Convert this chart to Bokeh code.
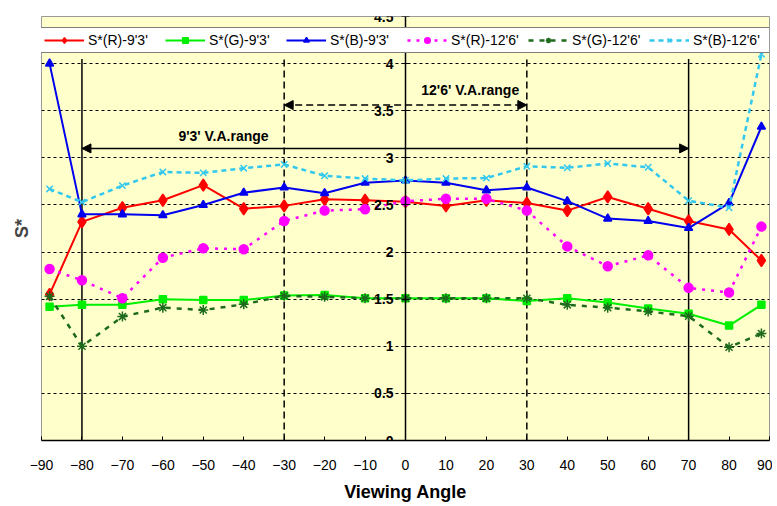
from bokeh.plotting import figure
from bokeh.models import FixedTicker, Arrow, NormalHead, Label, Title, Range1d, Legend
from bokeh.embed import file_html
from bokeh.resources import INLINE

# ---- data ----
angles = [-88, -80, -70, -60, -50, -40, -30, -20, -10, 0, 10, 20, 30, 40, 50, 60, 70, 80, 88]
s_r_9_3 = [1.55, 2.32, 2.47, 2.55, 2.71, 2.46, 2.49, 2.56, 2.55, 2.535, 2.49, 2.55, 2.52, 2.44, 2.585, 2.46, 2.33, 2.24, 1.91]
s_g_9_3 = [1.42, 1.44, 1.44, 1.50, 1.49, 1.49, 1.54, 1.545, 1.51, 1.51, 1.51, 1.51, 1.48, 1.51, 1.465, 1.40, 1.345, 1.22, 1.44]
s_b_9_3 = [4.0, 2.40, 2.40, 2.39, 2.50, 2.63, 2.685, 2.625, 2.735, 2.76, 2.735, 2.655, 2.685, 2.54, 2.355, 2.33, 2.255, 2.52, 3.33]
s_r_12_6 = [1.82, 1.70, 1.51, 1.94, 2.04, 2.03, 2.33, 2.44, 2.455, 2.54, 2.565, 2.565, 2.44, 2.06, 1.85, 1.965, 1.62, 1.57, 2.27]
s_g_12_6 = [1.53, 1.00, 1.315, 1.41, 1.385, 1.445, 1.535, 1.525, 1.51, 1.51, 1.51, 1.51, 1.51, 1.44, 1.41, 1.37, 1.32, 0.99, 1.135]
s_b_12_6 = [2.67, 2.53, 2.705, 2.85, 2.84, 2.89, 2.93, 2.81, 2.78, 2.76, 2.78, 2.785, 2.91, 2.895, 2.94, 2.90, 2.545, 2.47, 4.1]

series_labels = ["S*(R)-9'3'", "S*(G)-9'3'", "S*(B)-9'3'", "S*(R)-12'6'", "S*(G)-12'6'", "S*(B)-12'6'"]

x_ticks = list(range(-90, 91, 10))
y_ticks = [0, 0.5, 1, 1.5, 2, 2.5, 3, 3.5, 4, 4.5]
y_tick_labels = ["0", "0.5", "1", "1.5", "2", "2.5", "3", "3.5", "4", "4.5"]

va_range_9_3 = [-80, 70]
va_range_12_6 = [-30, 30]
va_line_top = 4.05
va_arrow_9_3 = 3.1
va_arrow_12_6 = 3.56
va_text_9_3 = "9'3' V.A.range"
va_text_12_6 = "12'6' V.A.range"

FONT = "Liberation Sans"

p = figure(width=772, height=504, output_backend="svg", toolbar_location=None,
           x_range=Range1d(-90, 90), y_range=Range1d(0, 4.5),
           min_border_left=41, min_border_right=3, min_border_top=16, min_border_bottom=60,
           background_fill_color="#FFFFCC", border_fill_color="white",
           outline_line_color="#9a9a9a", outline_line_width=1)

# axes
p.xaxis.ticker = FixedTicker(ticks=x_ticks)
p.xaxis.minor_tick_line_color = None
p.xaxis.major_tick_in = 4
p.xaxis.major_tick_out = 0
p.xaxis.major_tick_line_color = "black"
p.xaxis.axis_line_color = "black"
p.xaxis.axis_line_width = 1.5
p.xaxis.major_label_text_font = FONT
p.xaxis.major_label_text_font_size = "14px"
p.xaxis.major_label_text_color = "black"
p.xaxis.major_label_standoff = 19
p.xaxis.axis_label = "Viewing Angle"
p.xaxis.axis_label_text_font = FONT
p.xaxis.axis_label_text_font_size = "18px"
p.xaxis.axis_label_text_font_style = "bold"
p.xaxis.axis_label_text_color = "black"
p.xaxis.axis_label_standoff = 9

p.yaxis.fixed_location = 0
p.yaxis.ticker = FixedTicker(ticks=y_ticks)
p.yaxis.major_label_overrides = {t: l for t, l in zip(y_ticks, y_tick_labels)}
p.yaxis.minor_tick_line_color = None
p.yaxis.major_tick_in = 4
p.yaxis.major_tick_out = 4
p.yaxis.major_tick_line_color = "black"
p.yaxis.axis_line_color = "black"
p.yaxis.axis_line_width = 1.5
p.yaxis.major_label_text_font = FONT
p.yaxis.major_label_text_font_size = "14px"
p.yaxis.major_label_text_font_style = "bold"
p.yaxis.major_label_text_color = "black"
p.yaxis.major_label_standoff = 8

p.add_layout(Title(text="S*", align="center", text_font=FONT, text_font_size="18px",
                   text_font_style="bold", standoff=19), "left")

# grid
p.xgrid.grid_line_color = None
p.ygrid.ticker = FixedTicker(ticks=y_ticks[1:-1])
p.ygrid.grid_line_color = "black"
p.ygrid.grid_line_dash = "3 3"
p.ygrid.grid_line_width = 1

# viewing-angle range markers
p.segment(x0=va_range_9_3, x1=va_range_9_3, y0=[0, 0], y1=[va_line_top] * 2,
          line_color="black", line_width=1.5)
p.segment(x0=va_range_12_6, x1=va_range_12_6, y0=[0, 0], y1=[va_line_top] * 2,
          line_color="black", line_width=1.5, line_dash="7 4")
p.add_layout(Arrow(x_start=va_range_9_3[0], x_end=va_range_9_3[1], y_start=va_arrow_9_3, y_end=va_arrow_9_3,
                   start=NormalHead(size=9, fill_color="black", line_color="black"),
                   end=NormalHead(size=9, fill_color="black", line_color="black"),
                   line_color="black", line_width=1.5))
p.add_layout(Arrow(x_start=va_range_12_6[0], x_end=va_range_12_6[1], y_start=va_arrow_12_6, y_end=va_arrow_12_6,
                   start=NormalHead(size=9, fill_color="black", line_color="black"),
                   end=NormalHead(size=9, fill_color="black", line_color="black"),
                   line_color="black", line_width=1.5, line_dash="7 4"))
p.add_layout(Label(x=-45, y=3.23, text=va_text_9_3, text_align="center", text_baseline="middle",
                   text_font=FONT, text_font_size="14px", text_font_style="bold", text_color="black"))
p.add_layout(Label(x=16, y=3.72, text=va_text_12_6, text_align="center", text_baseline="middle",
                   text_font=FONT, text_font_size="14px", text_font_style="bold", text_color="black"))

# series
styles = [
    (s_r_9_3, "#FF0000", None, "diamond", 12),
    (s_g_9_3, "#00EE00", None, "square", 7),
    (s_b_9_3, "#0000EE", None, "triangle", 8),
    (s_r_12_6, "#FF00FF", "3 6", "circle", 9),
    (s_g_12_6, "#1E6B1E", "5 6", "asterisk", 10),
    (s_b_12_6, "#33C8EE", "5 4", "x", 9),
]
items = []
for (vals, col, dash, mk, sz), lab in zip(styles, series_labels):
    kw = dict(line_color=col, line_width=2.5 if dash else 2)
    if dash:
        kw["line_dash"] = dash
    l = p.line(angles, vals, **kw)
    s = p.scatter(angles, vals, marker=mk, size=sz, fill_color=col, line_color=col, line_width=1.5)
    items.append((lab, [l, s]))

legend = Legend(items=items, orientation="horizontal", location="top_center",
                glyph_width=40, glyph_height=14, label_standoff=4, label_width=73, label_height=14,
                spacing=4, padding=4, margin=11,
                label_text_font=FONT, label_text_font_size="14px", label_text_color="black",
                border_line_color="black", border_line_width=1,
                background_fill_color="white", background_fill_alpha=1)
p.add_layout(legend, "center")

open("out.html", "w").write(file_html(p, INLINE))
